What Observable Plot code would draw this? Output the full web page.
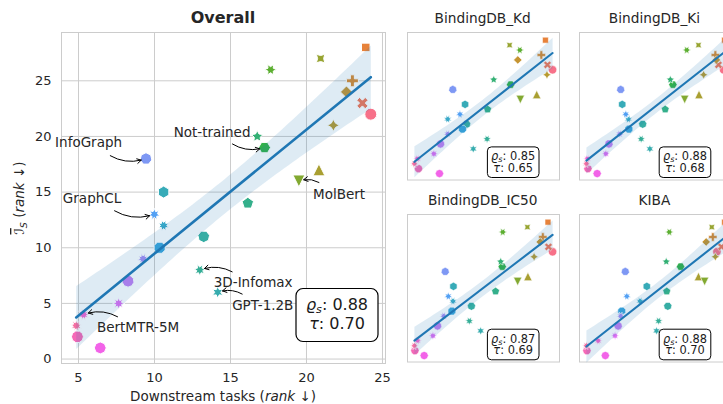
<!DOCTYPE html>
<html>
<head>
<meta charset="utf-8">
<script src="https://cdn.jsdelivr.net/npm/d3@7"></script>
<script src="https://cdn.jsdelivr.net/npm/@observablehq/plot@0.6"></script>
<style>
  html, body { margin: 0; padding: 0; background: #fff; overflow: hidden; }
  #fig { position: relative; width: 723px; height: 404px; overflow: hidden;
         font-family: "DejaVu Sans", sans-serif; color: #262626; background: #fff; }
  #fig > svg { position: absolute; }
</style>
</head>
<body>
<div id="fig"></div>
<script>
// ---- data -----------------------------------------------------------------
// Models, listed in palette / marker order.
const models = [
  "M01", "M02", "M03", "M04", "M05", "M06", "M07", "M08", "MolBert", "M10",
  "Not-trained", "M12", "M13", "3D-Infomax", "M15", "GPT-1.2B", "M17", "M18",
  "M19", "GraphCL", "InfoGraph", "M22", "M23", "M24", "M25", "BertMTR-5M", "M27", "M28"
];
// Mean rank on the I_S metric (y, shared by every panel)
const isRank = [22, 23, 28, 25, 24, 21, 17, 27, 16, 26, 19, 20, 14, 8, 11, 6, 15, 12, 10, 13, 18, 9, 7, 5, 1, 4, 2, 3];
// Mean rank over all downstream tasks (x of the "Overall" panel)
const downstreamRank = [24.23, 23.68, 23.90, 23.02, 22.63, 21.77, 20.82, 20.93, 19.50, 17.64,
  17.24, 16.76, 16.14, 12.98, 13.24, 14.16, 10.60, 10.60, 10.34, 9.99,
  9.44, 9.25, 8.26, 7.64, 6.43, 5.33, 4.93, 4.85];
// Rank on each individual task
const kdRank = [28.0, 27.0, 26.6, 25.8, 21.2, 26.9, 24.9, 19.6, 21.7, 21.6,
  19.8, 16.5, 15.3, 15.2, 11.2, 12.5, 10.9, 7.5, 10.4, 9.9,
  8.5, 7.5, 6.1, 4.8, 5.9, 1.6, 1.8, 1.0];
const kiRank = [27.8, 26.8, 28.0, 26.2, 26.4, 23.9, 23.0, 22.9, 20.2, 20.6,
  17.9, 17.4, 16.4, 11.7, 12.0, 13.4, 8.0, 9.2, 9.3, 8.7,
  7.7, 7.5, 5.4, 4.8, 3.1, 1.2, 1.3, 1.0];
const ic50Rank = [27.9, 27.1, 27.0, 26.0, 25.5, 24.3, 23.1, 23.0, 21.1, 18.2,
  18.1, 17.8, 16.8, 11.7, 12.1, 13.9, 8.6, 8.5, 8.3, 7.6,
  7.0, 6.7, 5.5, 4.6, 2.9, 1.6, 1.1, 1.0];
const kibaRank = [26.5, 27.4, 28.0, 25.7, 24.4, 26.2, 22.9, 25.5, 24.1, 17.2,
  19.4, 16.6, 16.7, 15.1, 16.9, 14.7, 12.8, 11.5, 7.9, 8.9,
  8.6, 7.7, 7.2, 6.6, 4.7, 3.3, 1.1, 1.0];

const panelTitles = ["BindingDB_Kd", "BindingDB_Ki", "BindingDB_IC50", "KIBA"];
const panelRho = [0.85, 0.88, 0.87, 0.88];
const panelTau = [0.65, 0.68, 0.69, 0.70];
const overallRho = 0.88;
const overallTau = 0.70;

const xTicks = [5, 10, 15, 20, 25];
const yTicks = [0, 5, 10, 15, 20, 25];

// Labelled models: name, label anchor and arrow tail (data units)
const labelNames = ["InfoGraph", "Not-trained", "MolBert", "GraphCL", "3D-Infomax", "GPT-1.2B", "BertMTR-5M"];
const labelX = [3.46, 11.26, 20.43, 3.97, 13.90, 15.11, 6.21];
const labelY = [19.43, 20.36, 14.76, 14.37, 6.82, 4.82, 2.78];
const tailX = [7.09, 15.13, 20.82, 7.37, 15.11, 15.77, 7.57];
const tailY = [18.27, 19.32, 15.87, 13.32, 7.84, 5.84, 3.80];

// ---- styles ---------------------------------------------------------------
const palette = [
  "#f77189", "#f37658", "#e7823a", "#d98a32", "#c59432", "#b79a31", "#a99f31", "#97a431",
  "#82a931", "#5caf31", "#32b14a", "#33b074", "#34af8b", "#35ae97", "#36ada4", "#36acae",
  "#37abb8", "#38a8c8", "#3aa5dc", "#52a0f4", "#7e98f4", "#a48cf4", "#c07ff4", "#de6ef4",
  "#f263e8", "#f563d2", "#f669b7", "#f66da1"
];
const blue = "#1f77b4";
const gridColor = "#cccccc";
const textColor = "#262626";
const FONT = "DejaVu Sans, sans-serif";

// marker shapes (matplotlib-style: polygons, stars with inner radius 0.5, filled plus / X, triangles)
const rad = d => d * Math.PI / 180;
function pathFrom(ctx, pts) {
  pts.forEach(([x, y], i) => i ? ctx.lineTo(x, y) : ctx.moveTo(x, y));
  ctx.closePath();
}
const circle = { draw(ctx, size) { const r = Math.sqrt(size / Math.PI); ctx.moveTo(r, 0); ctx.arc(0, 0, r, 0, 2 * Math.PI); } };
const polygon = (n, rot) => ({ draw(ctx, size) {
  const r = Math.sqrt(size / Math.PI);
  pathFrom(ctx, d3.range(n).map(i => { const a = rad(90 + rot + 360 * i / n); return [r * Math.cos(a), -r * Math.sin(a)]; }));
} });
const star = (n, rot) => ({ draw(ctx, size) {
  const r = Math.sqrt(size / Math.PI);
  pathFrom(ctx, d3.range(2 * n).map(i => { const a = rad(90 + rot + 180 * i / n), q = i % 2 ? 0.5 * r : r; return [q * Math.cos(a), -q * Math.sin(a)]; }));
} });
const plusPts = [[-1, -3], [1, -3], [1, -1], [3, -1], [3, 1], [1, 1], [1, 3], [-1, 3], [-1, 1], [-3, 1], [-3, -1], [-1, -1]];
const plus = rot => ({ draw(ctx, size) {
  const r = Math.sqrt(size / Math.PI), c = Math.cos(rad(rot)), s = Math.sin(rad(rot));
  pathFrom(ctx, plusPts.map(([x, y]) => [(x * c - y * s) * r / 3, (x * s + y * c) * r / 3]));
} });
const triangle = up => ({ draw(ctx, size) {
  const r = Math.sqrt(size / Math.PI), k = up ? -1 : 1;
  pathFrom(ctx, [[0, k * r], [-r, -k * r], [r, -k * r]]);
} });
const markers = [
  circle, plus(45), polygon(4, 45), plus(0), polygon(4, 0), star(4, 0), triangle(true), star(4, 45), triangle(false),
  star(6, 30), polygon(6, 30), star(5, 0), polygon(5, 0),
  star(7, 360 / 14), polygon(7, 360 / 14), star(6, 0), polygon(6, 0),
  star(8, 22.5), polygon(8, 22.5), star(7, 0), polygon(7, 0),
  star(9, 20), polygon(9, 20), star(8, 0), polygon(8, 0),
  star(10, 18), polygon(10, 18), star(9, 0)
];

// ---- helpers --------------------------------------------------------------
const padded = v => { const [a, b] = d3.extent(v); const m = (b - a) * 0.05; return [a - m, b + m]; };
const rowsFor = xs => models.map((m, i) => ({ model: m, k: i, x: xs[i], y: isRank[i] }));
const dotMarks = (rows, r, sw) => rows.map(d => Plot.dot([d], {
  x: "x", y: "y", r, symbol: markers[d.k], fill: palette[d.k], stroke: "white", strokeWidth: sw
}));

const fig = d3.select("#fig");

// ---- overall panel --------------------------------------------------------
const mainRows = rowsFor(downstreamRank);
const notes = labelNames.map((name, i) => {
  const k = models.indexOf(name);
  return { name, lx: labelX[i], ly: labelY[i], tx: tailX[i], ty: tailY[i], px: downstreamRank[k], py: isRank[k] };
});

const mainPlot = Plot.plot({
  width: 400, height: 404,
  marginTop: 32, marginRight: 15, marginBottom: 41, marginLeft: 61,
  style: { fontFamily: FONT, fontSize: "13px", color: textColor, background: "transparent", overflow: "visible" },
  x: { domain: padded(downstreamRank) },
  y: { domain: [-0.4, 29.34] },
  marks: [
    Plot.gridX({ ticks: xTicks, stroke: gridColor, strokeOpacity: 1, strokeWidth: 1 }),
    Plot.gridY({ ticks: yTicks, stroke: gridColor, strokeOpacity: 1, strokeWidth: 1 }),
    Plot.frame({ stroke: gridColor, strokeWidth: 1 }),
    Plot.axisX({ ticks: xTicks, tickSize: 0, tickPadding: 9, label: null, fontSize: 13 }),
    Plot.axisY({ ticks: yTicks, tickSize: 0, tickPadding: 10, label: null, fontSize: 13 }),
    ...dotMarks(mainRows, 6, 1),
    Plot.linearRegressionY(mainRows, { x: "x", y: "y", stroke: blue, strokeWidth: 2.6, fill: blue, fillOpacity: 0.15 }),
    Plot.arrow(notes, { x1: "tx", y1: "ty", x2: "px", y2: "py", bend: -25, insetEnd: 5, headLength: 7, stroke: "#000", strokeWidth: 1 }),
    Plot.text(notes, { x: "lx", y: "ly", text: "name", textAnchor: "start", fontSize: 13.5, fill: textColor })
  ]
});
d3.select(mainPlot).style("left", "0px").style("top", "0px");
fig.node().appendChild(mainPlot);

// ---- per-task panels ------------------------------------------------------
const panelData = [kdRank, kiRank, ic50Rank, kibaRank];
const panelFrames = [[406.7, 31.7], [578.5, 31.7], [406.7, 214], [578.5, 214]];
const PW = 152, PH = 147.5;

panelData.forEach((xs, p) => {
  const rows = rowsFor(xs);
  const chart = Plot.plot({
    width: PW + 2, height: PH + 2, margin: 1,
    style: { background: "transparent", overflow: "visible" },
    x: { domain: padded(xs), axis: null },
    y: { domain: [-0.3, 29.55], axis: null },
    marks: [
      Plot.frame({ stroke: gridColor, strokeWidth: 1 }),
      ...dotMarks(rows, 4.2, 0.6),
      Plot.linearRegressionY(rows, { x: "x", y: "y", stroke: blue, strokeWidth: 2.1, fill: blue, fillOpacity: 0.15 })
    ]
  });
  d3.select(chart).style("left", `${panelFrames[p][0] - 1}px`).style("top", `${panelFrames[p][1] - 1}px`);
  fig.node().appendChild(chart);
});

// ---- titles, axis labels, correlation boxes -------------------------------
const svg = fig.append("svg").attr("width", 723).attr("height", 404)
  .style("left", "0px").style("top", "0px")
  .style("font-family", FONT).style("fill", textColor).style("white-space", "pre");

svg.append("text").attr("x", 223).attr("y", 23).attr("text-anchor", "middle")
  .attr("font-size", 16).attr("font-weight", "bold").text("Overall");

const xl = svg.append("text").attr("x", 223).attr("y", 401).attr("text-anchor", "middle").attr("font-size", 13.5);
xl.append("tspan").text("Downstream tasks  (");
xl.append("tspan").attr("font-style", "italic").text("rank");
xl.append("tspan").text(" ↓)");

const yl = svg.append("text").attr("transform", "translate(24,198) rotate(-90)").attr("text-anchor", "middle").attr("font-size", 13.5);
yl.append("tspan").attr("font-style", "italic").attr("text-decoration", "overline").text("ℐ");
yl.append("tspan").attr("font-style", "italic").attr("font-size", 9.5).attr("dy", 3).text("S");
yl.append("tspan").attr("dy", -3).text("  (");
yl.append("tspan").attr("font-style", "italic").text("rank");
yl.append("tspan").text(" ↓)");

panelTitles.forEach((t, p) => {
  const [fx, fy] = panelFrames[p];
  svg.append("text").attr("x", fx + PW / 2).attr("y", fy - 9.2).attr("text-anchor", "middle")
    .attr("font-size", 13.7).text(t);
});

function statBox(x, y, w, h, radius, fs, b1, b2, rho, tau, sw) {
  svg.append("rect").attr("x", x).attr("y", y).attr("width", w).attr("height", h).attr("rx", radius)
    .attr("fill", "white").attr("stroke", "#000").attr("stroke-width", sw);
  const cx = x + w / 2;
  const l1 = svg.append("text").attr("x", cx).attr("y", y + b1).attr("text-anchor", "middle").attr("font-size", fs).style("fill", "#1a1a1a");
  l1.append("tspan").attr("font-style", "italic").text("ϱ");
  l1.append("tspan").attr("font-style", "italic").attr("font-size", fs * 0.7).attr("dy", fs * 0.2).text("s");
  l1.append("tspan").attr("dy", -fs * 0.2).text(": " + rho.toFixed(2));
  const l2 = svg.append("text").attr("x", cx).attr("y", y + b2).attr("text-anchor", "middle").attr("font-size", fs).style("fill", "#1a1a1a");
  l2.append("tspan").attr("font-style", "italic").text("τ");
  l2.append("tspan").text(": " + tau.toFixed(2));
}
statBox(296, 288.5, 82, 53, 7, 16, 21.5, 40.5, overallRho, overallTau, 1.2);
panelFrames.forEach(([fx, fy], p) => {
  statBox(fx + PW - 19.7 - 51.6, fy + PH - 1.7 - 30.6, 51.6, 30.6, 4, 11.4, 13.3, 25, panelRho[p], panelTau[p], 1);
});
</script>
</body>
</html>
